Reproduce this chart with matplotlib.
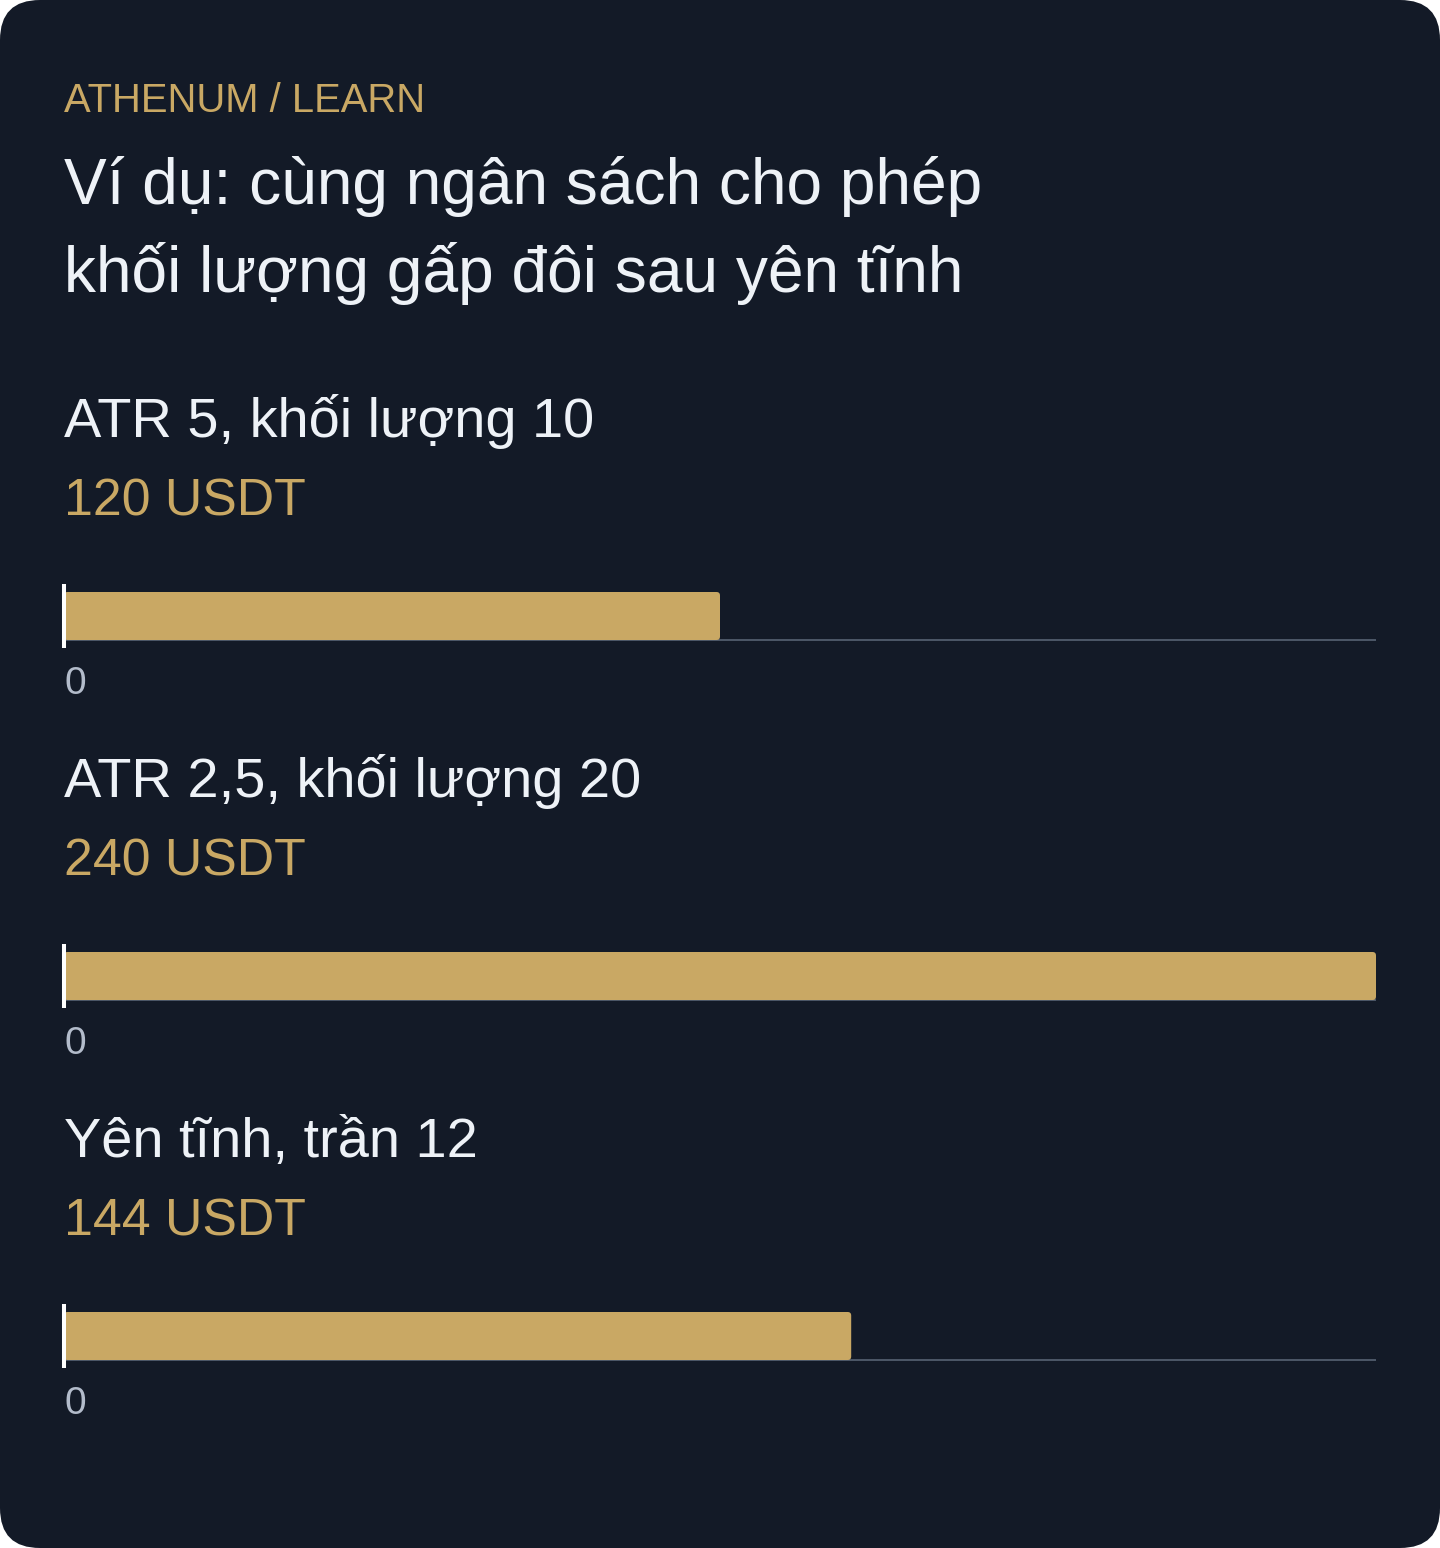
import matplotlib
matplotlib.use("Agg")
import matplotlib.pyplot as plt
from matplotlib.patches import FancyBboxPatch

# data
kicker = "ATHENUM / LEARN"
title_lines = ["Ví dụ: cùng ngân sách cho phép", "khối lượng gấp đôi sau yên tĩnh"]
labels = ["ATR 5, khối lượng 10", "ATR 2,5, khối lượng 20", "Yên tĩnh, trần 12"]
values = [120, 240, 144]
x_max = 240

# colours
BG = "#131a27"
GOLD = "#c9a864"
TEXT = "#eef2f7"
MUTED = "#b3bccb"
GRID = "#4d5868"

plt.rcParams["font.family"] = ["Liberation Sans", "DejaVu Sans"]

W, H = 1440, 1548
fig = plt.figure(figsize=(W / 100, H / 100), dpi=100, facecolor="white")

# background card with rounded corners, drawn in pixel units
bg = fig.add_axes([0, 0, 1, 1])
bg.set_xlim(0, W)
bg.set_ylim(H, 0)
bg.axis("off")
bg.add_patch(FancyBboxPatch((0, 0), W, H, boxstyle="round,pad=0,rounding_size=40",
                            facecolor=BG, edgecolor="none"))

bg.text(64, 112, kicker, color=GOLD, fontsize=28.8, va="baseline", ha="left")
bg.text(64, 204, title_lines[0], color=TEXT, fontsize=46.1, va="baseline", ha="left")
bg.text(64, 292, title_lines[1], color=TEXT, fontsize=46.1, va="baseline", ha="left")

step = 360
px_x = x_max / 1312      # data units per pixel, x
px_y = 1 / 48            # data units per pixel, y
for i, (lab, val) in enumerate(zip(labels, values)):
    off = i * step
    bg.text(64, 437 + off, lab, color=TEXT, fontsize=40.3, va="baseline", ha="left")
    bg.text(64, 516 + off, f"{val} USDT", color=GOLD, fontsize=37.4, va="baseline", ha="left")

    # bar axes: 584..648 px tall, bar occupies 592..640
    top = 584 + off
    ax = fig.add_axes([64 / W, 1 - (top + 64) / H, 1312 / W, 64 / H])
    ax.set_facecolor("none")
    ax.set_xlim(0, x_max)
    ax.set_ylim(-8 / 48, 56 / 48)
    ax.add_patch(FancyBboxPatch((0, 0), val, 1,
                                boxstyle=f"round,pad=0,rounding_size={3.5 * px_x}",
                                mutation_aspect=px_y / px_x,
                                facecolor=GOLD, edgecolor="none", zorder=2))
    ax.axhline(0, color=GRID, lw=1.4, zorder=1)
    for s in ["top", "right", "bottom"]:
        ax.spines[s].set_visible(False)
    ax.spines["left"].set_color("white")
    ax.spines["left"].set_linewidth(2.9)
    ax.spines["left"].set_capstyle("butt")
    ax.spines["left"].set_zorder(3)
    ax.set_yticks([])
    ax.set_xticks([0])
    ax.set_xticklabels(["0"], ha="left", color=MUTED, fontsize=28)
    ax.tick_params(axis="x", length=0, pad=13)

fig.savefig("out.png", dpi=100, facecolor="white")
